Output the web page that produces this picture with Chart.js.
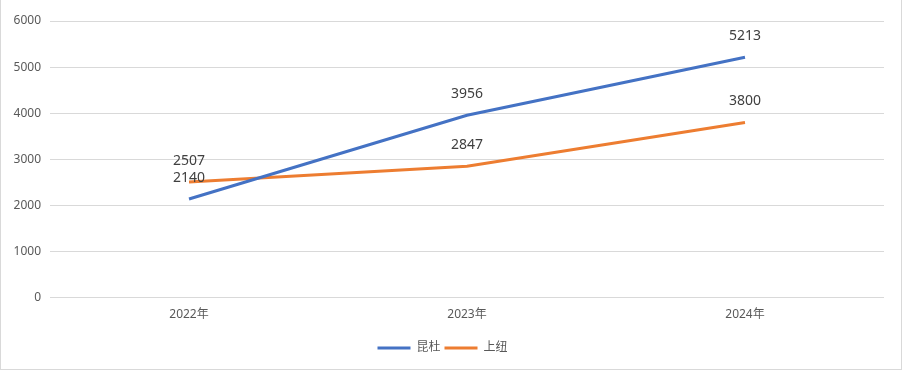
<!DOCTYPE html>
<html>
<head>
<meta charset="utf-8">
<script src="https://cdn.jsdelivr.net/npm/chart.js@4/dist/chart.umd.min.js"></script>
<style>
    html, body { margin: 0; padding: 0; background: #fff; }
    #box { width: 902px; height: 370px; box-sizing: border-box; border: 1px solid #d9d9d9; border-top: none; }
</style>
</head>
<body>
<div id="box"><canvas id="lineChart"></canvas></div>
<script>
//图表数据
var years = ["2022年", "2023年", "2024年"];
var kunduValues = [2140, 3956, 5213];
var shangniuValues = [2507, 2847, 3800];
var yTicks = [0, 1000, 2000, 3000, 4000, 5000, 6000];

var fontFamily = '"Noto Sans", "Noto Sans CJK SC", sans-serif';

//数据标签插件
var valueLabels = {
    id: "valueLabels",
    afterDatasetsDraw: function (chart) {
        var ctx = chart.ctx;
        ctx.save();
        ctx.font = "14px " + fontFamily;
        ctx.fillStyle = "#404040";
        ctx.textAlign = "center";
        ctx.textBaseline = "middle";
        chart.data.datasets.forEach(function (ds, i) {
            var meta = chart.getDatasetMeta(i);
            meta.data.forEach(function (pt, j) {
                ctx.fillText(ds.data[j], pt.x, pt.y - 21);
            });
        });
        ctx.restore();
    }
};

//初始化图表
function initChart() {
    var canvas = document.getElementById("lineChart").getContext("2d");
    new Chart(canvas, {
        type: "line",
        data: {
            labels: years,
            datasets: [
                {
                    label: "昆杜",
                    data: kunduValues,
                    borderColor: "#4472C4",
                    backgroundColor: "#4472C4",
                    borderWidth: 3,
                    pointRadius: 0,
                    tension: 0
                },
                {
                    label: "上纽",
                    data: shangniuValues,
                    borderColor: "#ED7D31",
                    backgroundColor: "#ED7D31",
                    borderWidth: 3,
                    pointRadius: 0,
                    tension: 0
                }
            ]
        },
        options: {
            responsive: true,
            maintainAspectRatio: false,
            animation: false,
            layout: { padding: { top: 21, right: 17, bottom: 5, left: 0 } },
            plugins: {
                tooltip: { enabled: false },
                legend: {
                    position: "bottom",
                    labels: {
                        boxWidth: 33,
                        boxHeight: 3,
                        padding: 4,
                        color: "#595959",
                        font: { family: fontFamily, size: 12 },
                        generateLabels: function (chart) {
                            return chart.data.datasets.map(function (ds, i) {
                                return {
                                    text: ds.label,
                                    fillStyle: ds.borderColor,
                                    strokeStyle: ds.borderColor,
                                    lineWidth: 0,
                                    fontColor: "#595959",
                                    datasetIndex: i
                                };
                            });
                        }
                    }
                }
            },
            scales: {
                x: {
                    offset: true,
                    grid: { display: false },
                    border: { display: false },
                    afterFit: function (scale) { scale.height = scale.height + 14; },
                    ticks: {
                        color: "#595959",
                        padding: 2,
                        font: { family: fontFamily, size: 12 }
                    }
                },
                y: {
                    min: 0,
                    max: 6000,
                    afterFit: function (scale) { scale.width = 49; },
                    afterBuildTicks: function (scale) {
                        scale.ticks = yTicks.map(function (v) { return { value: v }; });
                    },
                    grid: { color: "#d9d9d9", drawTicks: false },
                    border: { display: false },
                    ticks: {
                        color: "#595959",
                        padding: 9,
                        font: { family: fontFamily, size: 12 },
                        callback: function (v) { return String(v); }
                    }
                }
            }
        },
        plugins: [valueLabels]
    });
}

initChart();
</script>
</body>
</html>
